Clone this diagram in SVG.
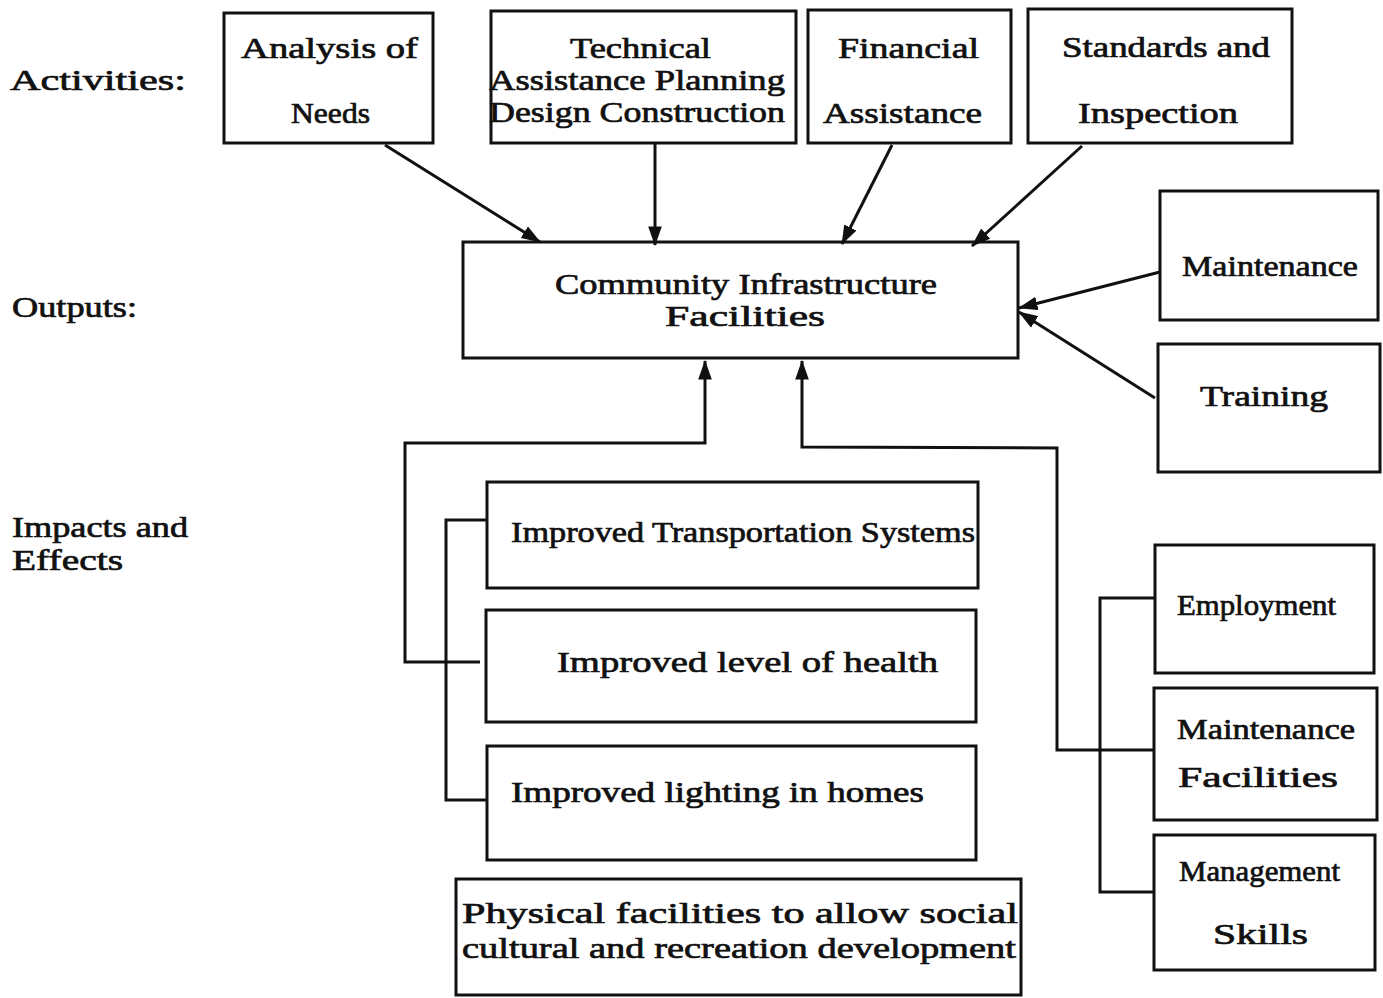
<svg xmlns="http://www.w3.org/2000/svg" width="1383" height="998" viewBox="0 0 1383 998">
  <style>
    .bg { fill: #ffffff; }
    .box { fill: none; stroke: #111; stroke-width: 3; }
    .ln { fill: none; stroke: #111; stroke-width: 3; stroke-linejoin: miter; }
    text { font-family: "Liberation Serif", "Times New Roman", serif; font-size: 29px; font-weight: normal; fill: #111; stroke: #111; stroke-width: 0.7; }
  </style>
  <defs>
    <marker id="arrow" viewBox="0 0 20 14" refX="19" refY="7" markerWidth="6.5" markerHeight="4.6" markerUnits="strokeWidth" orient="auto">
      <path d="M0,0 L20,7 L0,14 Z" fill="#111"/>
    </marker>
  </defs>
  <rect class="bg" x="0" y="0" width="1383" height="998"/>

  <!-- row labels -->
  <g id="labels">
    <text x="10" y="90" textLength="176" lengthAdjust="spacingAndGlyphs">Activities:</text>
    <text x="12" y="317" textLength="125" lengthAdjust="spacingAndGlyphs">Outputs:</text>
    <text x="12" y="537" textLength="176" lengthAdjust="spacingAndGlyphs">Impacts and</text>
    <text x="12" y="570" textLength="111" lengthAdjust="spacingAndGlyphs">Effects</text>
  </g>

  <!-- activities -->
  <g id="analysis">
    <rect class="box" x="224" y="13" width="209" height="130"/>
    <text x="241" y="58" textLength="177" lengthAdjust="spacingAndGlyphs">Analysis of</text>
    <text x="291" y="123" textLength="79" lengthAdjust="spacingAndGlyphs">Needs</text>
  </g>
  <g id="technical">
    <rect class="box" x="491" y="11" width="305" height="132"/>
    <text x="570" y="58" textLength="141" lengthAdjust="spacingAndGlyphs">Technical</text>
    <text x="489" y="90" textLength="296" lengthAdjust="spacingAndGlyphs">Assistance Planning</text>
    <text x="489" y="122" textLength="296" lengthAdjust="spacingAndGlyphs">Design Construction</text>
  </g>
  <g id="financial">
    <rect class="box" x="808" y="10" width="203" height="133"/>
    <text x="838" y="58" textLength="141" lengthAdjust="spacingAndGlyphs">Financial</text>
    <text x="823" y="123" textLength="159" lengthAdjust="spacingAndGlyphs">Assistance</text>
  </g>
  <g id="standards">
    <rect class="box" x="1028" y="9" width="264" height="134"/>
    <text x="1062" y="57" textLength="208" lengthAdjust="spacingAndGlyphs">Standards and</text>
    <text x="1078" y="123" textLength="160" lengthAdjust="spacingAndGlyphs">Inspection</text>
  </g>

  <!-- outputs -->
  <g id="community">
    <rect class="box" x="463" y="242" width="555" height="116"/>
    <text x="555" y="294" textLength="382" lengthAdjust="spacingAndGlyphs">Community Infrastructure</text>
    <text x="665" y="326" textLength="160" lengthAdjust="spacingAndGlyphs">Facilities</text>
  </g>
  <g id="maintenance">
    <rect class="box" x="1160" y="191" width="218" height="129"/>
    <text x="1182" y="276" textLength="176" lengthAdjust="spacingAndGlyphs">Maintenance</text>
  </g>
  <g id="training">
    <rect class="box" x="1158" y="344" width="222" height="128"/>
    <text x="1200" y="406" textLength="128" lengthAdjust="spacingAndGlyphs">Training</text>
  </g>

  <!-- impacts and effects -->
  <g id="transport">
    <rect class="box" x="487" y="482" width="491" height="106"/>
    <text x="511" y="542" textLength="464" lengthAdjust="spacingAndGlyphs">Improved Transportation Systems</text>
  </g>
  <g id="health">
    <rect class="box" x="486" y="610" width="490" height="112"/>
    <text x="557" y="672" textLength="381" lengthAdjust="spacingAndGlyphs">Improved level of health</text>
  </g>
  <g id="lighting">
    <rect class="box" x="487" y="746" width="489" height="114"/>
    <text x="511" y="802" textLength="413" lengthAdjust="spacingAndGlyphs">Improved lighting in homes</text>
  </g>
  <g id="physical">
    <rect class="box" x="456" y="879" width="565" height="116"/>
    <text x="462" y="923" textLength="556" lengthAdjust="spacingAndGlyphs">Physical facilities to allow social</text>
    <text x="462" y="958" textLength="554" lengthAdjust="spacingAndGlyphs">cultural and recreation development</text>
  </g>
  <g id="employment">
    <rect class="box" x="1155" y="545" width="219" height="128"/>
    <text x="1177" y="615" textLength="159" lengthAdjust="spacingAndGlyphs">Employment</text>
  </g>
  <g id="maint-facilities">
    <rect class="box" x="1154" y="688" width="223" height="132"/>
    <text x="1177" y="739" textLength="178" lengthAdjust="spacingAndGlyphs">Maintenance</text>
    <text x="1178" y="787" textLength="160" lengthAdjust="spacingAndGlyphs">Facilities</text>
  </g>
  <g id="management">
    <rect class="box" x="1154" y="835" width="221" height="135"/>
    <text x="1179" y="881" textLength="161" lengthAdjust="spacingAndGlyphs">Management</text>
    <text x="1213" y="944" textLength="95" lengthAdjust="spacingAndGlyphs">Skills</text>
  </g>

  <!-- connectors -->
  <g id="connectors">
    <line class="ln" x1="385" y1="145" x2="540" y2="242" marker-end="url(#arrow)"/>
    <line class="ln" x1="655" y1="143" x2="655" y2="245" marker-end="url(#arrow)"/>
    <line class="ln" x1="892" y1="145" x2="842" y2="244" marker-end="url(#arrow)"/>
    <line class="ln" x1="1082" y1="146" x2="972" y2="246" marker-end="url(#arrow)"/>
    <line class="ln" x1="1160" y1="272" x2="1019" y2="308" marker-end="url(#arrow)"/>
    <line class="ln" x1="1155" y1="398" x2="1019" y2="312" marker-end="url(#arrow)"/>
    <polyline class="ln" points="480,662 405,662 405,443 705,443 705,361" marker-end="url(#arrow)"/>
    <polyline class="ln" points="1155,750 1057,750 1057,448 802,447 802,361" marker-end="url(#arrow)"/>
    <polyline class="ln" points="487,520 446,520 446,800 487,800"/>
    <polyline class="ln" points="1155,598 1100,598 1100,892 1154,892"/>
  </g>
</svg>
